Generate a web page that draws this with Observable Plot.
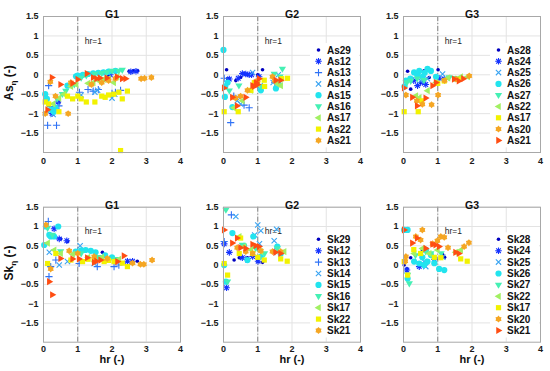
<!DOCTYPE html>
<html><head><meta charset="utf-8">
<script src="https://cdn.jsdelivr.net/npm/d3@7"></script>
<script src="https://cdn.jsdelivr.net/npm/@observablehq/plot@0.6"></script>
<style>
body{margin:0;background:#fff;}
#fig{position:relative;width:550px;height:371px;overflow:hidden;font-family:"Liberation Sans",Arial,sans-serif;background:#fff;}
#fig svg{position:absolute;overflow:visible;}
</style></head><body><div id="fig"></div>
<script>
// ---------- data: [styleIndex, [[hr, value], ...]] ----------
const asG1 = [
 [0,[[2.5,0.09],[2.62,0.1],[2.75,0.1],[1.9,-0.03],[1.05,-0.03],[0.45,-0.72],[0.3,-0.9]]],
 [1,[[2.55,0.08],[2.7,0.09],[0.42,-0.7],[1.95,0.0],[0.25,-1.0]]],
 [2,[[0.15,-0.28],[0.12,-1.3],[0.38,-1.3],[0.2,-0.82],[1.05,-0.45],[1.3,-0.38],[1.45,-0.42],[1.6,-0.38],[2.0,-0.48],[2.1,-0.45],[2.25,-0.4],[0.45,-0.8]]],
 [3,[[0.2,-0.92],[0.28,-1.02],[0.38,-0.82],[1.1,-0.52],[1.5,-0.45],[1.58,-0.4],[2.0,-0.6],[2.08,-0.5]]],
 [4,[[0.05,-0.5],[0.1,-0.62],[0.22,-0.9],[0.3,-0.95],[0.35,-0.85],[0.7,-0.28],[0.95,-0.04],[1.0,-0.02],[1.15,0.0],[1.3,0.02],[1.45,0.04],[1.6,0.05],[1.75,0.06],[1.9,0.08],[2.1,0.1]]],
 [5,[[0.4,-0.62],[0.55,-0.5],[0.65,-0.42],[0.9,-0.25],[1.1,-0.08],[1.25,-0.02],[1.5,0.02],[1.7,0.04],[1.85,0.06],[2.0,0.1],[2.2,0.1],[2.3,0.12]]],
 [6,[[0.28,-0.75],[0.45,-0.6],[0.6,-0.5],[0.8,-0.3],[0.95,-0.25],[1.3,-0.22],[1.45,-0.2],[1.6,-0.15],[1.75,-0.12],[1.9,-0.1],[2.05,-0.2],[2.15,-0.05]]],
 [7,[[0.05,-0.7],[0.15,-0.75],[0.45,-0.95],[0.7,-0.55],[0.85,-0.62],[1.0,-0.55],[1.1,-0.62],[1.25,-0.7],[1.5,-0.7],[1.7,-0.55],[1.8,-0.58],[1.9,-0.52],[2.05,-0.5],[2.2,-0.45],[2.25,-1.95],[2.3,-0.62],[2.45,-0.42]]],
 [8,[[0.05,-1.0],[0.2,-0.18],[0.72,-1.0],[0.8,-0.2],[1.4,-0.25],[1.7,-0.2],[1.9,-0.15],[2.1,-0.1],[2.85,-0.1],[2.95,-0.09],[3.15,-0.07],[0.35,-0.55]]],
 [9,[[0.25,-0.07],[0.12,-0.9],[0.5,-0.25],[0.85,-0.22],[1.0,-0.12],[1.27,0.03],[1.45,-0.07],[1.55,-0.1],[1.65,-0.08],[1.85,-0.08],[2.15,-0.05],[2.3,-0.1],[2.4,-0.1]]]
];
const asG2 = [
 [0,[[0.09,0.13],[0.12,-0.1],[0.36,-0.15],[0.5,-0.07],[0.6,0.03],[0.7,0.0],[1.14,0.13],[1.0,0.0]]],
 [1,[[0.17,-0.11],[0.43,-0.09],[0.55,0.03],[0.75,0.0],[0.82,0.0],[1.04,-0.05],[0.65,0.02]]],
 [2,[[0.21,-1.23],[0.6,-0.78],[0.75,-0.85],[0.02,-0.09],[1.5,-0.2],[1.65,-0.15],[0.3,-0.55]]],
 [3,[[0.85,0.06],[0.4,-0.67],[1.07,-0.28],[1.45,-0.2],[1.6,0.0],[0.5,-0.75]]],
 [4,[[0.0,0.64],[0.04,-0.57],[0.12,-0.2],[0.26,-0.83],[1.09,-0.4],[1.53,-0.35],[1.6,-0.2],[0.05,-0.3]]],
 [5,[[1.72,0.15],[0.17,-0.41],[0.45,-0.28],[1.48,0.02],[1.65,-0.05],[1.1,-0.3]]],
 [6,[[1.67,-0.28],[1.58,-0.24],[0.3,-0.85],[0.55,-0.67],[1.0,-0.25],[0.8,-0.4]]],
 [7,[[0.02,-0.95],[0.43,-0.95],[0.8,-0.4],[1.19,-0.14],[1.87,-0.09],[1.2,-0.3],[0.9,-0.2],[1.7,-0.1]]],
 [8,[[0.5,-0.55],[0.7,-0.4],[1.43,-0.05],[1.5,-0.15],[0.35,-0.6],[1.0,-0.15]]],
 [9,[[0.02,-0.34],[0.26,-0.58],[0.4,-0.8],[0.65,-0.58],[0.85,-0.28],[0.95,-0.2],[1.04,-0.1],[1.53,-0.14],[1.67,-0.14],[0.9,-0.3],[1.0,-0.25]]]
];
const asG3 = [
 [0,[[0.12,0.09],[0.6,0.1],[1.01,0.13],[0.21,-0.37],[0.75,-0.07],[0.5,-0.2]]],
 [1,[[0.41,-0.28],[0.55,-0.2],[1.04,-0.09],[1.19,-0.11],[0.3,-0.15],[0.65,-0.25]]],
 [3,[[1.14,0.02],[0.7,-0.1],[0.5,-0.15]]],
 [4,[[0.07,-0.15],[0.31,0.06],[0.46,0.1],[0.7,0.15],[0.8,0.1],[0.2,-0.1],[0.55,-0.05],[0.95,-0.05],[0.03,-0.3],[0.4,0.0],[0.62,0.05]]],
 [5,[[0.21,-0.16],[0.6,-0.14],[1.33,-0.07],[1.48,-0.09],[0.4,-0.1],[0.1,-0.2]]],
 [6,[[0.7,-0.41],[0.36,-0.54],[0.46,-0.59],[1.67,-0.05],[1.87,-0.05],[0.95,-0.2],[1.3,-0.08]]],
 [7,[[0.02,-0.95],[0.43,-0.95],[1.19,-0.16],[1.0,-0.22],[0.53,-0.67],[1.6,-0.12]]],
 [8,[[0.07,-0.52],[1.01,-0.52],[0.82,-0.77],[0.39,-0.67],[0.55,-0.76],[1.92,-0.03],[1.53,-0.11],[1.2,-0.15]]],
 [9,[[0.02,-0.34],[0.26,-0.58],[0.4,-0.8],[0.65,-0.6],[0.85,-0.28],[0.95,-0.2],[1.48,-0.11],[1.62,-0.16],[1.75,-0.1]]]
];
const skG1 = [
 [0,[[2.59,0.1],[2.74,0.1],[1.72,0.33],[0.5,0.68],[0.7,0.61]]],
 [1,[[0.31,0.94],[0.46,0.68],[2.45,0.1],[0.68,0.63],[2.6,0.1]]],
 [2,[[0.14,1.13],[0.16,-0.3],[0.21,-0.04],[1.04,0.04],[1.57,-0.04],[2.06,-0.04],[2.2,0.0],[0.36,0.13]]],
 [3,[[0.17,0.33],[0.46,0.0],[1.07,0.5],[1.48,0.04],[0.7,0.09]]],
 [4,[[0.02,0.52],[0.07,1.0],[0.17,0.78],[0.21,0.74],[0.43,1.0],[0.31,0.74],[0.94,0.35],[1.23,0.39],[1.38,0.37],[1.52,0.33],[2.0,0.2],[1.8,0.25],[1.1,0.38]]],
 [5,[[0.12,0.96],[0.26,0.78],[1.1,0.3],[1.6,0.2],[2.1,0.15],[0.5,0.35]]],
 [6,[[0.12,0.57],[0.31,0.39],[0.5,0.3],[0.85,0.28],[1.3,0.2],[1.7,0.2],[2.2,0.15]]],
 [7,[[0.12,0.04],[0.36,0.3],[0.8,0.13],[1.14,0.09],[1.48,0.13],[1.77,0.09],[2.06,0.09],[2.45,-0.04],[1.3,0.15],[2.3,0.05],[1.9,0.12]]],
 [8,[[0.07,1.04],[0.21,-0.1],[0.75,0.37],[1.48,0.22],[1.86,0.17],[2.83,0.02],[2.93,0.02],[3.17,0.13],[2.6,0.05],[1.0,0.3]]],
 [9,[[0.17,-0.43],[0.26,-0.77],[0.5,0.17],[0.85,0.16],[1.04,0.16],[1.28,0.19],[1.48,0.07],[1.67,0.13],[2.16,0.09],[2.35,0.24],[1.55,0.1]]]
];
const skG2 = [
 [0,[[0.31,0.13],[0.46,0.19],[0.7,0.19],[1.14,0.07],[1.0,0.13]]],
 [1,[[0.17,0.33],[0.09,-0.59],[0.55,0.19],[0.85,0.22],[1.01,0.1],[0.02,0.55]]],
 [2,[[0.23,1.3],[0.02,0.61],[1.5,0.35],[0.65,0.15]]],
 [3,[[0.36,1.26],[1.0,1.04],[1.09,0.89],[1.55,0.93],[1.48,0.63],[0.91,0.78],[1.05,0.55]]],
 [4,[[0.02,0.0],[0.26,0.83],[0.07,-0.43],[0.7,0.13],[0.87,0.74],[1.09,0.22],[1.57,0.48],[1.67,0.3],[0.6,0.5]]],
 [5,[[0.07,1.43],[0.12,-0.43],[0.55,0.52],[0.94,0.43],[1.57,0.43],[1.2,0.3]]],
 [6,[[0.46,0.74],[0.6,0.48],[1.09,0.35],[1.77,0.35],[0.8,0.4]]],
 [7,[[0.02,0.04],[0.12,-0.26],[0.5,0.7],[0.46,0.3],[0.85,0.3],[1.19,0.13],[1.67,0.16],[1.86,0.1],[1.0,0.2]]],
 [8,[[0.85,0.3],[1.09,0.37],[1.43,0.35],[1.67,0.35],[0.65,0.35],[0.4,0.45]]],
 [9,[[0.02,0.91],[0.26,0.57],[0.4,0.7],[0.65,0.43],[0.85,0.54],[0.94,0.5],[1.04,0.48],[1.52,0.33],[1.67,0.3],[0.5,0.45]]]
];
const skG3 = [
 [0,[[0.02,0.0],[0.21,0.19],[0.55,0.39],[1.14,0.28],[1.2,0.2],[0.1,-0.1]]],
 [1,[[0.1,-0.13],[0.65,0.39],[0.46,-0.04],[0.9,0.15]]],
 [3,[[0.6,0.09],[0.65,-0.04],[1.15,0.2]]],
 [4,[[0.02,0.91],[0.12,0.91],[0.31,0.09],[0.46,0.04],[0.7,0.09],[0.8,0.26],[1.04,-0.1],[1.19,-0.13],[0.12,-0.35],[0.55,0.2],[0.9,0.05],[0.6,0.0]]],
 [5,[[0.17,-0.48],[0.12,-0.26],[0.65,0.35],[0.8,0.3],[0.35,0.25],[1.1,0.3]]],
 [6,[[0.31,0.3],[0.55,0.43],[0.75,0.3],[0.99,0.39],[1.52,0.33],[1.67,0.39]]],
 [7,[[0.02,0.09],[0.12,-0.26],[0.5,0.3],[1.09,0.19],[1.67,0.16],[1.86,0.1],[0.3,0.4],[0.9,0.2]]],
 [8,[[0.07,0.22],[0.55,0.91],[0.36,0.74],[0.5,0.65],[0.99,0.63],[1.09,0.74],[1.19,0.72],[1.77,0.48],[1.91,0.58],[1.3,0.45],[0.85,0.55],[0.05,0.1]]],
 [9,[[0.02,0.91],[0.26,0.57],[0.4,0.7],[0.65,0.43],[0.85,0.54],[0.94,0.52],[1.04,0.48],[1.52,0.33],[1.62,0.3]]]
];
const legendAsG2 = ["As29","As12","As13","As14","As15","As16","As17","As22","As21"];
const legendAsG3 = ["As28","As24","As25","As26","As27","As22","As17","As20","As21"];
const legendSkG2 = ["Sk29","Sk12","Sk13","Sk14","Sk15","Sk16","Sk17","Sk22","Sk21"];
const legendSkG3 = ["Sk28","Sk24","Sk25","Sk26","Sk27","Sk22","Sk17","Sk20","Sk21"];
const legendKeysG2 = [0,1,2,3,4,5,6,7,8];
const legendKeysG3 = [0,1,3,4,5,6,7,8,9];
const xTicks = [0,1,2,3,4];
const yTicks = [-1.5,-1,-0.5,0,0.5,1,1.5];
const hrLine = 1;

// ---------- styles ----------
const colors = ["#0000c0","#1432ff","#2f72f5","#3aa4f2","#22e4ee","#45f0b4","#a2f062","#f2f200","#f5a623","#ff4d12"];
function mk(fn){return {draw(ctx,size){const R=Math.sqrt(size/Math.PI); fn(ctx,R);}};}
const symCircle = mk((c,R)=>{c.moveTo(R,0);c.arc(0,0,R,0,2*Math.PI);});
const symPlus = mk((c,R)=>{c.moveTo(-R,0);c.lineTo(R,0);c.moveTo(0,-R);c.lineTo(0,R);});
const symTimes = mk((c,R)=>{const a=R*0.8;c.moveTo(-a,-a);c.lineTo(a,a);c.moveTo(-a,a);c.lineTo(a,-a);});
const symAster = mk((c,R)=>{const a=R*0.7;c.moveTo(-R,0);c.lineTo(R,0);c.moveTo(0,-R);c.lineTo(0,R);c.moveTo(-a,-a);c.lineTo(a,a);c.moveTo(-a,a);c.lineTo(a,-a);});
const poly = pts => mk((c,R)=>{pts.forEach(([x,y],i)=> i? c.lineTo(x*R,y*R): c.moveTo(x*R,y*R)); c.closePath();});
const symTriDown = poly([[0,1.3],[-1.2,-0.75],[1.2,-0.75]]);
const symTriLeft = poly([[-1.3,0],[0.75,-1.2],[0.75,1.2]]);
const symTriRight = poly([[1.3,0],[-0.75,-1.2],[-0.75,1.2]]);
const symSquare = poly([[-1,-1],[1,-1],[1,1],[-1,1]]);
const symHexa = poly(d3.range(12).map(i=>{const a=Math.PI/2+i*Math.PI/6, r=i%2?0.85:1.2; return [r*Math.cos(a), -r*Math.sin(a)];}));
const styles = [
 {sym:symCircle, r:1.8, filled:true},
 {sym:symAster, r:3.3, filled:false},
 {sym:symPlus, r:3.6, filled:false},
 {sym:symTimes, r:3.3, filled:false},
 {sym:symCircle, r:3.1, filled:true},
 {sym:symTriDown, r:3.0, filled:true},
 {sym:symTriLeft, r:3.0, filled:true},
 {sym:symSquare, r:2.6, filled:true},
 {sym:symHexa, r:2.9, filled:true},
 {sym:symTriRight, r:3.0, filled:true}
];
const fmt = d => d < 0 ? "\u2212" + Math.abs(d) : String(d);
const fig = d3.select("#fig");
const FONT = '"Liberation Sans", Arial, sans-serif';

function panel({data, col, row, title, ylab, legendNames, legendKeys}) {
  const top = row === 0 ? 0 : 185;
  const height = row === 0 ? 175 : 186;
  const marginTop = row === 0 ? 16 : 21.7;
  const marginBottom = row === 0 ? 23 : 29.3;
  const marks = [
    Plot.gridX(xTicks.slice(1,-1), {stroke:"#e3e3e3", strokeOpacity:1}),
    Plot.gridY(yTicks, {stroke:"#e3e3e3", strokeOpacity:1}),
    Plot.ruleX([hrLine], {stroke:"#777", strokeWidth:0.9, strokeDasharray:"5,2,1,2"}),
    Plot.text(["hr=1"], {x: hrLine, frameAnchor:"top", dx:7, dy:21, textAnchor:"start", fontWeight:"normal", fontSize:8.5, fill:"#222"})
  ];
  for (const [k, pts] of data) {
    const s = styles[k];
    marks.push(Plot.dot(pts, {x:d=>d[0], y:d=>d[1], symbol:s.sym, r:s.r,
      fill: s.filled ? colors[k] : "none", stroke: s.filled ? "none" : colors[k], strokeWidth:1.1}));
  }
  marks.push(Plot.frame({stroke:"#a8a8a8"}));
  marks.push(Plot.text([title], {frameAnchor:"top", dy: row===0 ? -6 : -5.5, fontWeight:"bold", fontSize:10.5, fill:"#111"}));
  if (row === 1) marks.push(Plot.text(["hr (-)"], {frameAnchor:"bottom", dy:20.5, fontWeight:"bold", fontSize:11, fill:"#111"}));
  const chart = Plot.plot({
    width:182, height, marginLeft:43, marginRight:2, marginTop, marginBottom,
    x:{domain:[0,4], ticks:xTicks, tickSize:0, tickPadding: row === 0 ? 5 : 3, label:null, tickFormat:fmt},
    y:{domain:[-2,1.5], ticks:yTicks, tickSize:0, tickPadding:5, label:null, tickFormat:fmt},
    style:{fontFamily:FONT, fontSize:"9px", fontWeight:"bold", color:"#1a1a1a", background:"transparent", overflow:"visible"},
    marks
  });
  chart.style.left = (180*col) + "px";
  chart.style.top = top + "px";
  fig.node().appendChild(chart);
  const svg = d3.select(chart);
  if (ylab) {
    const t = svg.append("text")
      .attr("transform", `translate(10,${row===0 ? 83 : 78}) rotate(-90)`)
      .attr("text-anchor","middle").attr("dominant-baseline","middle")
      .attr("font-family", FONT).attr("font-weight","bold").attr("font-size", 12).attr("fill","#111");
    t.append("tspan").text(ylab);
    t.append("tspan").attr("font-size", 8).attr("dy", 4).text("\u03b7");
    t.append("tspan").attr("dy", -4).text(" (-)");
  }
  if (legendNames) {
    const fl = 43, ft = marginTop;
    const y0 = ft + (row === 0 ? 34 : 32.6), step = row === 0 ? 11.3 : 11.4;
    const g = svg.append("g");
    g.append("rect").attr("x", fl+87).attr("y", y0-7).attr("width", 49).attr("height", step*8+14).attr("fill","#fff");
    legendNames.forEach((name, i) => {
      const k = legendKeys[i], s = styles[k], y = y0 + i*step;
      g.append("path").attr("d", d3.symbol(s.sym, Math.PI*s.r*s.r)())
        .attr("transform", `translate(${fl+95.5},${y})`)
        .attr("fill", s.filled ? colors[k] : "none").attr("stroke", s.filled ? "none" : colors[k]).attr("stroke-width",1.1);
      g.append("text").attr("x", fl+104).attr("y", y).attr("dy","0.35em").attr("text-anchor","start")
        .attr("font-family", FONT).attr("font-weight","bold").attr("font-size", 10).attr("fill","#111").text(name);
    });
  }
}

panel({data:asG1, col:0, row:0, title:"G1", ylab:"As"});
panel({data:asG2, col:1, row:0, title:"G2", legendNames:legendAsG2, legendKeys:legendKeysG2});
panel({data:asG3, col:2, row:0, title:"G3", legendNames:legendAsG3, legendKeys:legendKeysG3});
panel({data:skG1, col:0, row:1, title:"G1", ylab:"Sk"});
panel({data:skG2, col:1, row:1, title:"G2", legendNames:legendSkG2, legendKeys:legendKeysG2});
panel({data:skG3, col:2, row:1, title:"G3", legendNames:legendSkG3, legendKeys:legendKeysG3});
</script></body></html>
